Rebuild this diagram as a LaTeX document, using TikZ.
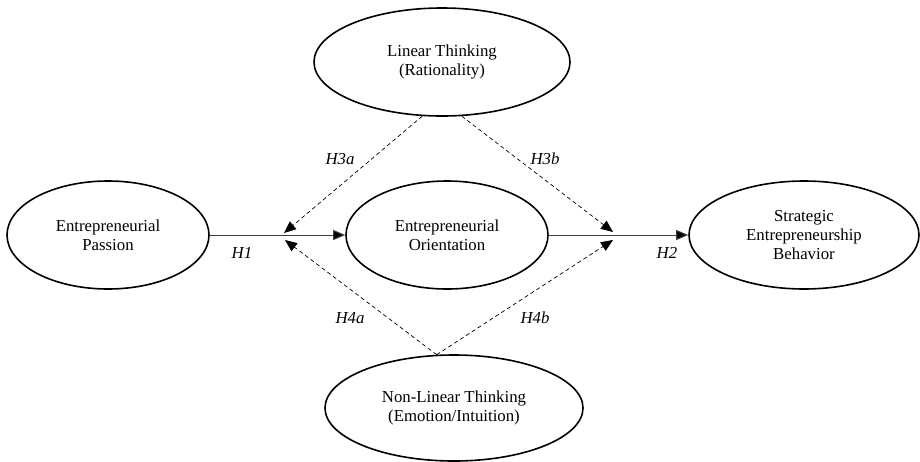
\documentclass[tikz,border=0pt]{standalone}
\usepackage{fontspec}
\setmainfont{Liberation Serif}
\usepackage{tikz}
\usetikzlibrary{arrows.meta, positioning, shapes.geometric}

\tikzset{
  construct/.style={ellipse, draw=black, line width=0.8pt, inner sep=0pt, align=center,
    font=\fontsize{8.4}{9.6}\selectfont},
  path/.style={draw=black!75, line width=0.5pt, -{Triangle[length=6pt,width=5pt,fill=black]}},
  moderate/.style={draw=black, line width=0.35pt, dash pattern=on 2pt off 1.5pt,
    -{Triangle[length=6pt,width=5pt]}},
  hyp/.style={font=\fontsize{8.4}{9.6}\selectfont\itshape}
}

\begin{document}
\begin{tikzpicture}[x=0.5pt, y=-0.5pt]
  \useasboundingbox (0, 0) rectangle (920, 461);

  \node[construct, minimum width=101pt, minimum height=54pt] (passion) at (108, 235) {Entrepreneurial\\Passion};
  \node[construct, minimum width=101pt, minimum height=54pt] (orient) at (447, 235) {Entrepreneurial\\Orientation};
  \node[construct, minimum width=115pt, minimum height=54pt] (seb) at (804, 235) {Strategic\\Entrepreneurship\\Behavior};
  \node[construct, minimum width=128pt, minimum height=54pt] (linear) at (442, 62) {Linear Thinking\\(Rationality)};
  \node[construct, minimum width=129pt, minimum height=53pt] (nonlinear) at (454, 408) {Non-Linear Thinking\\(Emotion/Intuition)};

  \coordinate (m1up) at (284, 233);
  \coordinate (m1lo) at (285, 240);
  \coordinate (m2up) at (613, 232);
  \coordinate (m2lo) at (613, 240);

  \draw[path] (passion.east) -- (orient.west);
  \draw[path] (orient.east) -- (seb.west);

  \draw[moderate] (linear.250) -- (m1up);
  \draw[moderate] (linear.290) -- (m2up);
  \draw[moderate] (nonlinear.108) -- (m1lo);
  \draw[moderate] (nonlinear.108) -- (m2lo);

  \node[hyp] (h1) at (242, 253) {H1};
  \node[hyp] (h2) at (667, 253) {H2};
  \node[hyp] (h3a) at (340, 159) {H3a};
  \node[hyp] (h3b) at (545, 159) {H3b};
  \node[hyp] (h4a) at (350, 318) {H4a};
  \node[hyp] (h4b) at (535, 318) {H4b};
\end{tikzpicture}
\end{document}
